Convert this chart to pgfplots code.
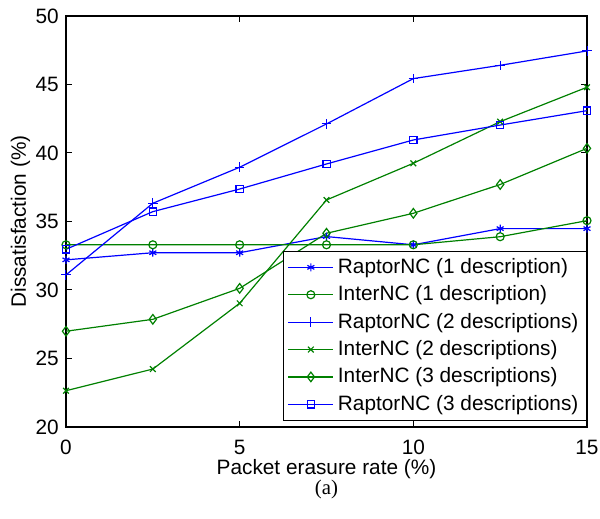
\documentclass[border=0pt]{standalone}
\usepackage{fontspec}
\setmainfont{Liberation Sans}
\newfontfamily\capfont{Liberation Serif}
\usepackage{pgfplots}
\pgfplotsset{compat=1.18}
\definecolor{mblue}{rgb}{0,0,1}
\definecolor{mgreen}{rgb}{0,0.5,0}
\begin{document}
\fontsize{10.4}{12.5}\selectfont
\begin{tikzpicture}
\begin{axis}[
  scale only axis,
  width=260.5pt, height=205.5pt,
  xmin=0, xmax=15, ymin=20, ymax=50,
  xtick={0,5,10,15}, ytick={20,25,30,35,40,45,50},
  tick align=inside, tick pos=both,
  major tick length=3pt,
  axis line style={line width=0.6pt},
  tick style={line width=0.5pt, black},
  /pgf/number format/assume math mode=true,
  ticklabel style={font=\fontsize{10.4}{12}\selectfont},
  xticklabel style={yshift=-3pt},
  xlabel={Packet erasure rate (\%)},
  ylabel={Dissatisfaction (\%)},
  label style={font=\fontsize{10.4}{12}\selectfont},
  xlabel style={yshift=5pt},
  ylabel style={yshift=-4.5pt},
  every axis plot/.append style={line width=0.6pt},
  legend cell align=left,
  legend style={at={(1,0.0146)}, anchor=south east, draw=black, line width=0.6pt,
    font=\fontsize{10.4}{12}\selectfont, inner xsep=2pt, inner ysep=1.5pt,
    row sep=0.6pt},
  legend image code/.code={\draw[mark repeat=2,mark phase=2,#1] plot coordinates {(0pt,0pt) (11.25pt,0pt) (22.5pt,0pt)};},
]
\addplot[mblue, mark=asterisk, mark size=2pt, mark options={solid}] coordinates {
(0,32.2) (2.5,32.72) (5,32.72) (7.5,33.9) (10,33.3) (12.5,34.48) (15,34.48)};
\addlegendentry{RaptorNC (1 description)}
\addplot[mgreen, mark=o, mark size=2pt] coordinates {
(0,33.3) (2.5,33.3) (5,33.3) (7.5,33.3) (10,33.3) (12.5,33.89) (15,35.06)};
\addlegendentry{InterNC (1 description)}
\addplot[mblue, mark=+, mark size=2.4pt, mark options={line width=0.5pt}] coordinates {
(0,31.1) (2.5,36.33) (5,38.96) (7.5,42.12) (10,45.43) (12.5,46.4) (15,47.45)};
\addlegendentry{RaptorNC (2 descriptions)}
\addplot[mgreen, mark=x, mark size=2pt] coordinates {
(0,22.65) (2.5,24.23) (5,29.03) (7.5,36.57) (10,39.25) (12.5,42.29) (15,44.8)};
\addlegendentry{InterNC (2 descriptions)}
\addplot[mgreen, mark=diamond, mark size=2.4pt] coordinates {
(0,26.99) (2.5,27.86) (5,30.12) (7.5,34.14) (10,35.6) (12.5,37.7) (15,40.34)};
\addlegendentry{InterNC (3 descriptions)}
\addplot[mblue, mark=square, mark size=1.8pt] coordinates {
(0,32.97) (2.5,35.72) (5,37.37) (7.5,39.2) (10,40.95) (12.5,42.04) (15,43.09)};
\addlegendentry{RaptorNC (3 descriptions)}
\end{axis}
\node[font=\capfont\fontsize{10.4}{12}\selectfont] at ([yshift=-31pt]current axis.south) {(a)};
\pgfresetboundingbox
\path (current axis.south west) ++(-33pt,-46pt) rectangle ([xshift=6.5pt,yshift=8pt]current axis.north east);
\end{tikzpicture}
\end{document}
